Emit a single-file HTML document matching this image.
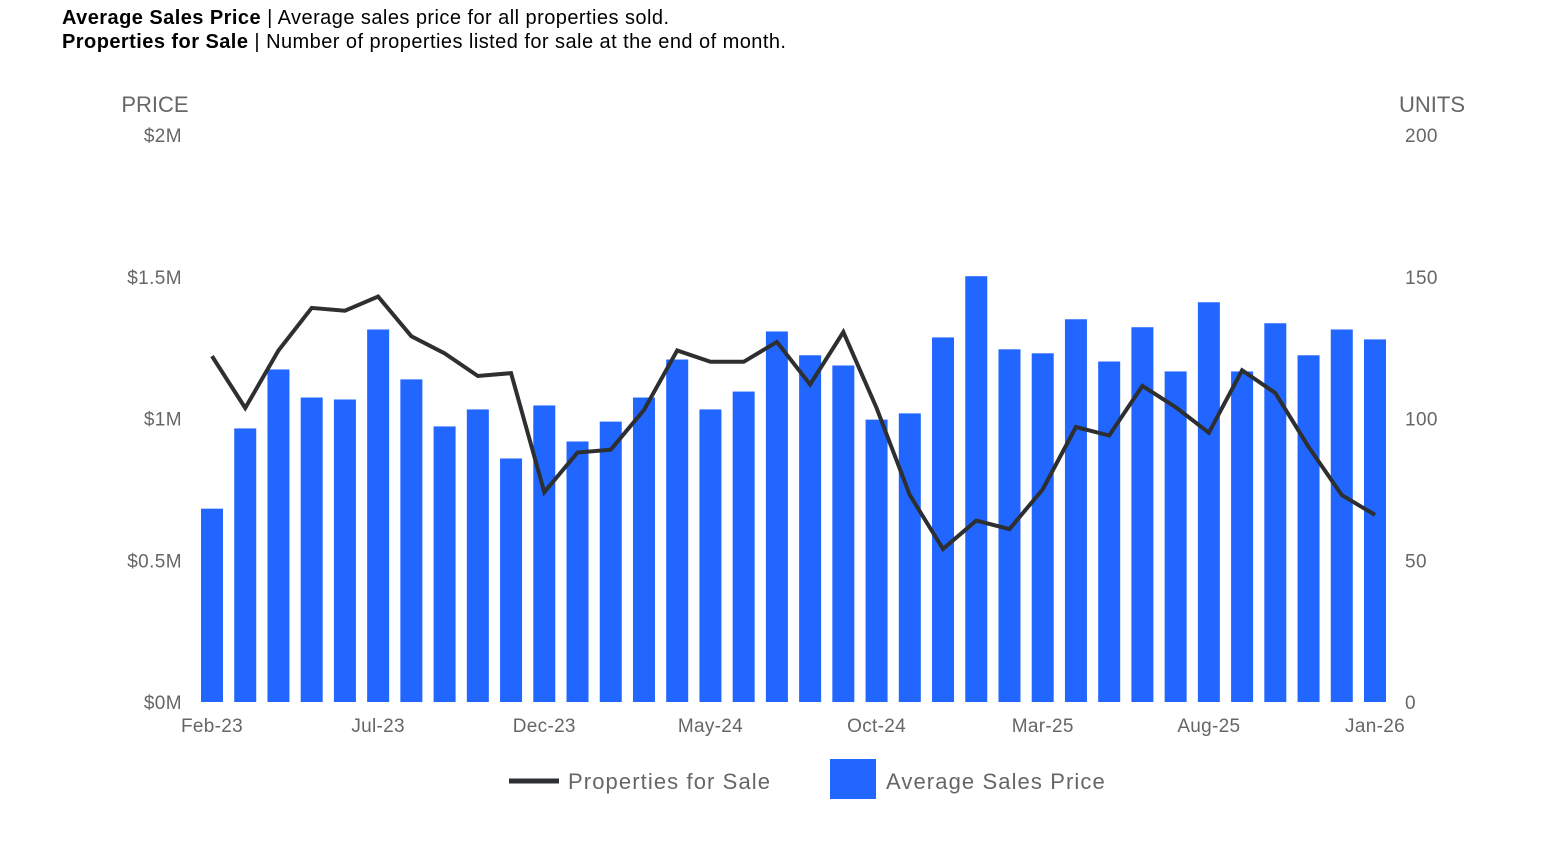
<!DOCTYPE html>
<html><head><meta charset="utf-8"><style>
body{margin:0;background:#fff;width:1550px;height:851px;overflow:hidden;font-family:"Liberation Sans",Arial,sans-serif}
.hdr{position:absolute;left:62px;font-size:20px;color:#000;line-height:24px;letter-spacing:0.45px;white-space:nowrap}
</style></head><body>
<div class="hdr" style="top:6px"><b>Average Sales Price</b> | Average sales price for all properties sold.</div>
<div class="hdr" style="top:30px"><b>Properties for Sale</b> | Number of properties listed for sale at the end of month.</div>
<svg id="chart" width="1550" height="851" style="position:absolute;left:0;top:0"></svg>
<script>
const months=["Feb-23","Mar-23","Apr-23","May-23","Jun-23","Jul-23","Aug-23","Sep-23","Oct-23","Nov-23","Dec-23","Jan-24","Feb-24","Mar-24","Apr-24","May-24","Jun-24","Jul-24","Aug-24","Sep-24","Oct-24","Nov-24","Dec-24","Jan-25","Feb-25","Mar-25","Apr-25","May-25","Jun-25","Jul-25","Aug-25","Sep-25","Oct-25","Nov-25","Dec-25","Jan-26"];
const priceValues=[0.682,0.965,1.173,1.074,1.067,1.314,1.138,0.972,1.032,0.859,1.046,0.919,0.989,1.074,1.208,1.032,1.095,1.307,1.223,1.187,0.996,1.018,1.286,1.502,1.244,1.23,1.35,1.201,1.322,1.166,1.41,1.166,1.336,1.223,1.314,1.279];
const unitValues=[122,103.7,124,139,138,143,129,123,115,116,74,88,89,103,124,120,120,127,112,130.5,103.7,73,54,64,61,75,97,94,111.5,104,95,117,109,90,73,66];
const priceTicks=["$0M","$0.5M","$1M","$1.5M","$2M"];
const priceTickVals=[0,0.5,1,1.5,2];
const unitTicks=[0,50,100,150,200];
const xLabelIdx=[0,5,10,15,20,25,30,35];
const svg=document.getElementById('chart');
const NS='http://www.w3.org/2000/svg';
const y0=702,y1=135;
const yP=v=>y0-(v/2)*(y0-y1);
const yU=v=>y0-(v/200)*(y0-y1);
const xC=i=>212+i*(1375-212)/35;
function mk(t,a,txt){const e=document.createElementNS(NS,t);for(const k in a)e.setAttribute(k,a[k]);if(txt!==undefined)e.textContent=txt;svg.appendChild(e);return e;}
let e;
e=mk('text',{x:155,y:112,'text-anchor':'middle','font-size':22,fill:'#666','font-family':'Liberation Sans'},'PRICE');


e=mk('text',{x:1432,y:112,'text-anchor':'middle','font-size':22,fill:'#666','font-family':'Liberation Sans'},'UNITS');


priceTickVals.forEach((v,i)=>{
 e=mk('text',{x:182,y:yP(v)+7,'text-anchor':'end','font-size':19,fill:'#666','font-family':'Liberation Sans','letter-spacing':0.4},priceTicks[i]);
 
 
});
unitTicks.forEach(v=>{
 e=mk('text',{x:1405,y:yU(v)+7,'text-anchor':'start','font-size':19,fill:'#666','font-family':'Liberation Sans','letter-spacing':0.4},String(v));
 
 
});
priceValues.forEach((v,i)=>{
 e=mk('rect',{x:xC(i)-11,y:yP(v),width:22,height:y0-yP(v),fill:'#2166ff'});
 
 
});
e=mk('polyline',{points:unitValues.map((v,i)=>xC(i)+','+yU(v)).join(' '),fill:'none',stroke:'#2d2f31','stroke-width':4,'stroke-linejoin':'miter'});


xLabelIdx.forEach(i=>{
 e=mk('text',{x:xC(i),y:732,'text-anchor':'middle','font-size':19,fill:'#666','font-family':'Liberation Sans','letter-spacing':0.3},months[i]);
 
 
});
e=mk('line',{x1:509,y1:781,x2:559,y2:781,stroke:'#2d2f31','stroke-width':5});


e=mk('text',{x:568,y:789,'font-size':22,fill:'#666','font-family':'Liberation Sans','letter-spacing':1.1},'Properties for Sale');


e=mk('rect',{x:830,y:759,width:46,height:40,fill:'#2166ff'});


e=mk('text',{x:886,y:789,'font-size':22,fill:'#666','font-family':'Liberation Sans','letter-spacing':1.1},'Average Sales Price');


</script>
</body></html>
